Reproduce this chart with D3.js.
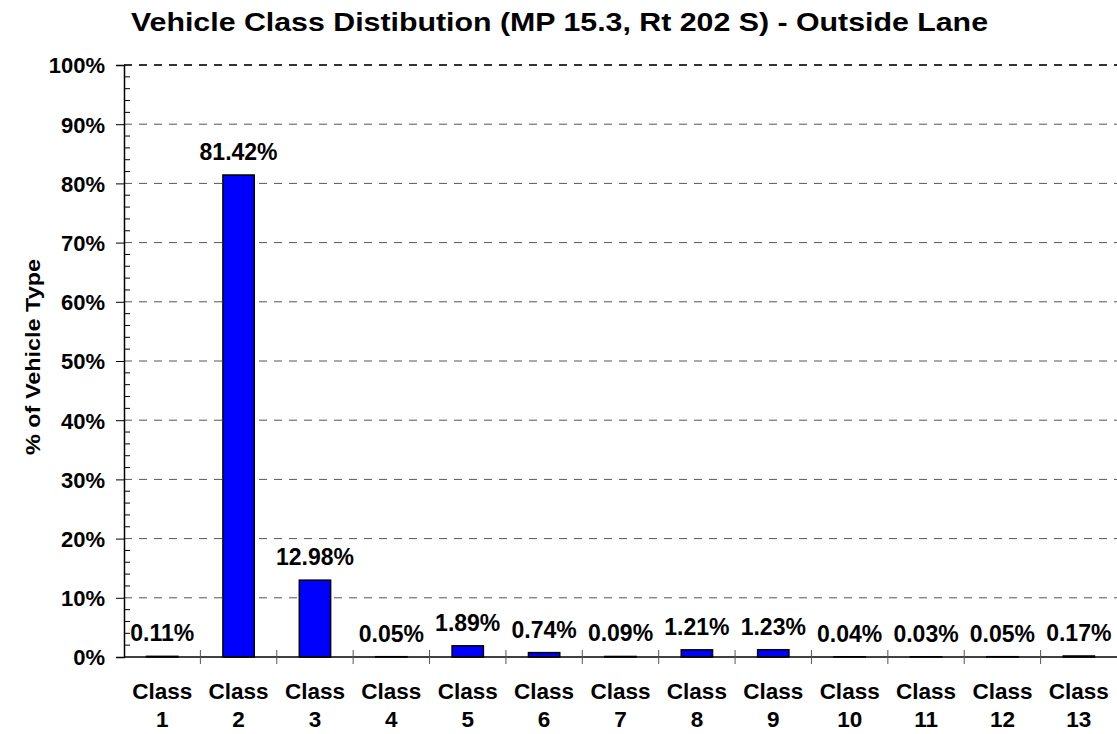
<!DOCTYPE html>
<html lang="en">
<head>
  <meta charset="UTF-8">
  <title>Vehicle Class Distribution</title>
  <style>
    body { margin: 0; background: #fff; }
    text { font-family: Arial, "Liberation Sans", sans-serif; font-weight: bold; fill: #000; }
  </style>
</head>
<body>
  <script src="https://d3js.org/d3.v7.min.js"></script>
  <script>
    const classes = ["1", "2", "3", "4", "5", "6", "7", "8", "9", "10", "11", "12", "13"];
    const shares = [0.11, 81.42, 12.98, 0.05, 1.89, 0.74, 0.09, 1.21, 1.23, 0.04, 0.03, 0.05, 0.17];
    const yTicks = [0, 10, 20, 30, 40, 50, 60, 70, 80, 90, 100];

    const width = 1117, height = 734;
    const margin = { top: 65, right: 0, bottom: 77, left: 124 };

    const svg = d3.select("body").append("svg")
      .attr("width", width)
      .attr("height", height);

    const x = d3.scaleBand()
      .domain(classes)
      .range([margin.left, width - margin.right])
      .paddingInner(0.59)
      .paddingOuter(0.295);

    const y = d3.scaleLinear()
      .domain([0, 100])
      .range([height - margin.bottom, margin.top]);

    // title (source image is a bit stretched sideways)
    svg.append("text")
      .attr("x", 559.5)
      .attr("y", 31)
      .attr("text-anchor", "middle")
      .attr("textLength", 857)
      .attr("lengthAdjust", "spacingAndGlyphs")
      .style("font-size", "25px")
      .text("Vehicle Class Distibution (MP 15.3, Rt 202 S) - Outside Lane");

    // y title
    svg.append("text")
      .attr("transform", "translate(40,357) rotate(-90)")
      .attr("text-anchor", "middle")
      .attr("textLength", 196)
      .attr("lengthAdjust", "spacingAndGlyphs")
      .style("font-size", "21px")
      .text("% of Vehicle Type");

    // gridlines
    svg.append("g")
      .selectAll("line")
      .data(yTicks.filter(d => d > 0))
      .join("line")
      .attr("x1", margin.left)
      .attr("x2", width - margin.right)
      .attr("y1", d => y(d))
      .attr("y2", d => y(d))
      .attr("stroke", d => d === 100 ? "#333" : "#555")
      .attr("stroke-width", d => d === 100 ? 2 : 1)
      .attr("stroke-dasharray", "8,7");

    // minor ticks inside
    svg.append("g")
      .selectAll("line")
      .data(d3.range(0, 101, 2).filter(d => d % 10 !== 0))
      .join("line")
      .attr("x1", margin.left)
      .attr("x2", margin.left + 6)
      .attr("y1", d => y(d))
      .attr("y2", d => y(d))
      .attr("stroke", "#000");

    // y axis
    const yAxis = svg.append("g")
      .attr("transform", `translate(${margin.left},0)`)
      .call(d3.axisLeft(y).tickValues(yTicks).tickFormat(d => d + "%").tickSize(8).tickPadding(11));
    yAxis.select(".domain").attr("stroke", "#000").attr("stroke-width", 1.5);
    yAxis.selectAll(".tick line").attr("stroke", "#000");
    yAxis.selectAll(".tick text")
      .style("font-size", "22px")
      .style("font-family", "Arial, 'Liberation Sans', sans-serif")
      .style("font-weight", "bold")
      .attr("dy", "0.36em");

    // bars
    svg.append("g")
      .selectAll("rect")
      .data(shares)
      .join("rect")
      .attr("x", (d, i) => x(classes[i]))
      .attr("width", x.bandwidth())
      .attr("y", d => y(d))
      .attr("height", d => y(0) - y(d))
      .attr("fill", "#0000ff")
      .attr("stroke", "#000")
      .attr("stroke-width", 1.5);

    // x axis line and boundary ticks
    const step = x.step();
    svg.append("line")
      .attr("x1", margin.left).attr("x2", width - margin.right)
      .attr("y1", y(0)).attr("y2", y(0))
      .attr("stroke", "#000").attr("stroke-width", 1.5);
    svg.append("g")
      .selectAll("line")
      .data(classes.slice(0, -1))
      .join("line")
      .attr("x1", d => x(d) - step * x.paddingOuter() + step)
      .attr("x2", d => x(d) - step * x.paddingOuter() + step)
      .attr("y1", y(0) - 7)
      .attr("y2", y(0) + 7)
      .attr("stroke", "#555");

    // value labels
    svg.append("g")
      .selectAll("text")
      .data(shares)
      .join("text")
      .attr("x", (d, i) => x(classes[i]) + x.bandwidth() / 2)
      .attr("y", d => y(d) - 15)
      .attr("text-anchor", "middle")
      .style("font-size", "23px")
      .text(d => d.toFixed(2) + "%");

    // category labels
    const cat = svg.append("g")
      .selectAll("text")
      .data(classes)
      .join("text")
      .attr("x", d => x(d) + x.bandwidth() / 2)
      .attr("y", y(0) + 42)
      .attr("text-anchor", "middle")
      .style("font-size", "22.5px");
    cat.append("tspan").attr("x", d => x(d) + x.bandwidth() / 2).text("Class");
    cat.append("tspan").attr("x", d => x(d) + x.bandwidth() / 2).attr("dy", 28).text(d => d);
  </script>
</body>
</html>
